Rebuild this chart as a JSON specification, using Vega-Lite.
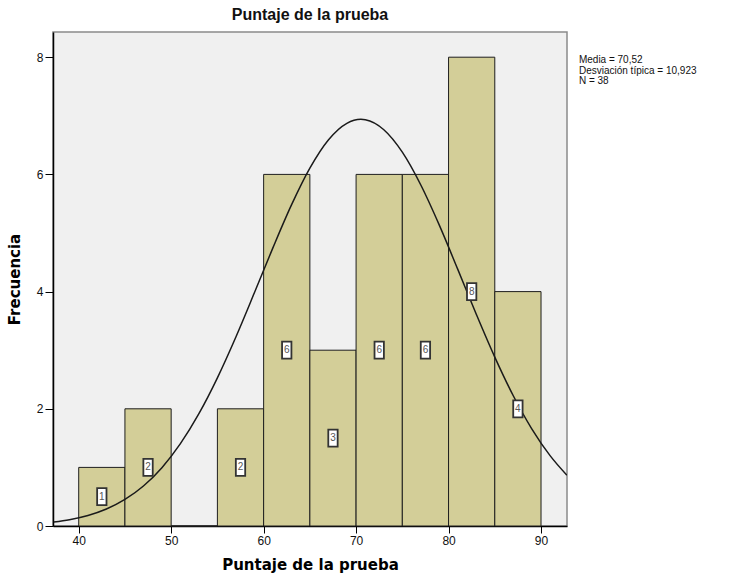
{
  "$schema": "https://vega.github.io/schema/vega-lite/v6.json",
  "width": 514,
  "height": 494,
  "autosize": {"type": "none"},
  "padding": {"left": 53, "top": 32, "right": 164, "bottom": 54},
  "background": "white",
  "config": {
    "view": {"fill": "#F0F0F0", "stroke": "#8a8a8a", "strokeWidth": 1.5},
    "font": "Liberation Sans"
  },
  "title": {
    "text": "Puntaje de la prueba",
    "font": "Liberation Sans",
    "fontSize": 16,
    "fontWeight": "bold",
    "color": "#111111",
    "anchor": "middle",
    "offset": 9
  },
  "datasets": {
    "bins": [
      {"lo": 40, "hi": 45, "count": 1},
      {"lo": 45, "hi": 50, "count": 2},
      {"lo": 50, "hi": 55, "count": 0},
      {"lo": 55, "hi": 60, "count": 2},
      {"lo": 60, "hi": 65, "count": 6},
      {"lo": 65, "hi": 70, "count": 3},
      {"lo": 70, "hi": 75, "count": 6},
      {"lo": 75, "hi": 80, "count": 6},
      {"lo": 80, "hi": 85, "count": 8},
      {"lo": 85, "hi": 90, "count": 4}
    ],
    "curve": [
      {"x": 37.3, "y": 0.068},
      {"x": 39, "y": 0.108},
      {"x": 41, "y": 0.180},
      {"x": 43, "y": 0.290},
      {"x": 45, "y": 0.453},
      {"x": 47, "y": 0.683},
      {"x": 49, "y": 0.996},
      {"x": 51, "y": 1.405},
      {"x": 53, "y": 1.917},
      {"x": 55, "y": 2.529},
      {"x": 57, "y": 3.226},
      {"x": 59, "y": 3.979},
      {"x": 61, "y": 4.746},
      {"x": 63, "y": 5.475},
      {"x": 65, "y": 6.107},
      {"x": 67, "y": 6.588},
      {"x": 69, "y": 6.872},
      {"x": 70.52, "y": 6.939},
      {"x": 71, "y": 6.932},
      {"x": 73, "y": 6.762},
      {"x": 75, "y": 6.379},
      {"x": 77, "y": 5.819},
      {"x": 79, "y": 5.134},
      {"x": 81, "y": 4.379},
      {"x": 83, "y": 3.613},
      {"x": 85, "y": 2.882},
      {"x": 87, "y": 2.223},
      {"x": 89, "y": 1.659},
      {"x": 91, "y": 1.197},
      {"x": 92.8, "y": 0.867}
    ],
    "stats": [
      {"txt": ["Media = 70,52", "Desviación típica = 10,923", "N = 38"]}
    ]
  },
  "layer": [
    {
      "data": {"name": "bins"},
      "mark": {"type": "rect", "fill": "#D3CE98", "stroke": "#1e1e1e", "strokeWidth": 1},
      "encoding": {
        "x": {
          "field": "lo",
          "type": "quantitative",
          "scale": {"domain": [37.22, 92.81], "nice": false, "zero": false},
          "axis": {
            "values": [40, 50, 60, 70, 80, 90],
            "format": "d",
            "title": "Puntaje de la prueba",
            "titleFont": "DejaVu Sans",
            "titleFontSize": 15,
            "titleFontWeight": "bold",
            "titleColor": "#000000",
            "titlePadding": 11,
            "labelFont": "Liberation Sans",
            "labelFontSize": 12,
            "labelColor": "#111111",
            "labelPadding": 2,
            "tickSize": 7,
            "tickColor": "#000000",
            "domainColor": "#000000",
            "domainWidth": 1.5,
            "grid": false
          }
        },
        "x2": {"field": "hi"},
        "y": {
          "field": "count",
          "type": "quantitative",
          "scale": {"domain": [0, 8.43], "nice": false},
          "axis": {
            "values": [0, 2, 4, 6, 8],
            "format": "d",
            "title": "Frecuencia",
            "titleFont": "DejaVu Sans",
            "titleFontSize": 15,
            "titleFontWeight": "bold",
            "titleColor": "#000000",
            "titlePadding": 14,
            "labelFont": "Liberation Sans",
            "labelFontSize": 12,
            "labelColor": "#111111",
            "labelPadding": 2,
            "tickSize": 8,
            "tickColor": "#000000",
            "domainColor": "#000000",
            "domainWidth": 1.5,
            "grid": false
          }
        },
        "y2": {"datum": 0}
      }
    },
    {
      "data": {"name": "curve"},
      "mark": {"type": "line", "color": "#1a1a1a", "strokeWidth": 1.5, "interpolate": "monotone", "clip": true},
      "encoding": {
        "x": {"field": "x", "type": "quantitative"},
        "y": {"field": "y", "type": "quantitative"}
      }
    },
    {
      "data": {"name": "bins"},
      "transform": [
        {"filter": "datum.count > 0"},
        {"calculate": "(datum.lo + datum.hi) / 2", "as": "mid"},
        {"calculate": "datum.count / 2", "as": "half"}
      ],
      "layer": [
        {
          "mark": {
            "type": "point",
            "shape": "M-0.55,-1H0.55V1H-0.55Z",
            "size": 289,
            "filled": true,
            "fill": "white",
            "stroke": "#333333",
            "strokeWidth": 1.8,
            "opacity": 1
          },
          "encoding": {
            "x": {"field": "mid", "type": "quantitative"},
            "y": {"field": "half", "type": "quantitative"}
          }
        },
        {
          "mark": {"type": "text", "fontSize": 10, "color": "#555555", "font": "Liberation Sans"},
          "encoding": {
            "x": {"field": "mid", "type": "quantitative"},
            "y": {"field": "half", "type": "quantitative"},
            "text": {"field": "count", "type": "quantitative"}
          }
        }
      ]
    },
    {
      "data": {"name": "stats"},
      "mark": {
        "type": "text",
        "align": "left",
        "baseline": "top",
        "fontSize": 10,
        "lineHeight": 10.5,
        "color": "#111111",
        "font": "Liberation Sans"
      },
      "encoding": {
        "x": {"datum": 94.1},
        "y": {"datum": 8.03},
        "text": {"field": "txt"}
      }
    }
  ]
}
